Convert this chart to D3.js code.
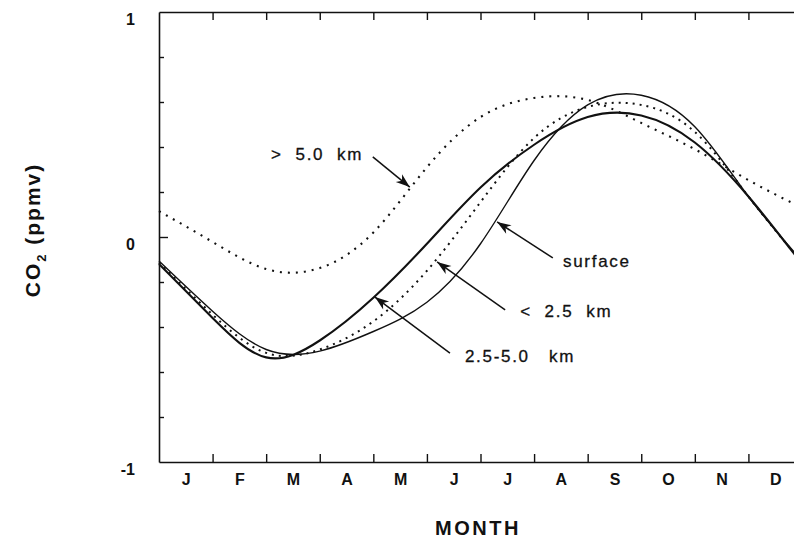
<!DOCTYPE html>
<html>
<head>
<meta charset="utf-8">
<script src="https://cdn.jsdelivr.net/npm/d3@7"></script>
<style>
  body { margin: 0; background: #fff; }
  svg { display: block; font-family: "Liberation Sans", Arial, Helvetica, sans-serif; }
</style>
</head>
<body>
<div id="app"></div>
<script>
// month letters, values at month boundaries (Jan 1 ... next Jan 1)
const months = ['J', 'F', 'M', 'A', 'M', 'J', 'J', 'A', 'S', 'O', 'N', 'D'];
const monthEdges = [0, 1, 2, 3, 4, 5, 6, 7, 8, 9, 10, 11, 12];

const surface  = [-0.107, -0.33, -0.50, -0.507, -0.42, -0.29, -0.03, 0.34, 0.587, 0.63, 0.49, 0.18, -0.107];
const km25     = [-0.113, -0.345, -0.515, -0.50, -0.375, -0.15, 0.155, 0.44, 0.578, 0.587, 0.467, 0.18, -0.113];
const km25to50 = [-0.12, -0.36, -0.535, -0.46, -0.27, -0.03, 0.22, 0.41, 0.533, 0.54, 0.42, 0.18, -0.12];
const km50     = [0.115, -0.022, -0.142, -0.138, 0.02, 0.31, 0.533, 0.618, 0.609, 0.507, 0.39, 0.253, 0.13];

const yTickLabels = [-1, 0, 1];

// labels with arrows: tip / tail / text position in data units
const notes = [
  { text: '>  5.0  km', tip: [4.68, 0.222], tail: [3.99, 0.356], at: [3.81, 0.342], anchor: 'end' },
  { text: 'surface', tip: [6.31, 0.067], tail: [7.35, -0.093], at: [7.54, -0.133], anchor: 'start' },
  { text: '<  2.5  km', tip: [5.19, -0.111], tail: [6.46, -0.324], at: [6.74, -0.356], anchor: 'start' },
  { text: '2.5-5.0   km', tip: [4.03, -0.267], tail: [5.43, -0.516], at: [5.71, -0.556], anchor: 'start' }
];

const W = 794, H = 540;
const margin = { top: 12, left: 159, bottom: 78 };
const plotW = 643; // runs past the right edge of the window, as in the original
const h = H - margin.top - margin.bottom;

const svg = d3.select('#app').append('svg')
  .attr('width', W)
  .attr('height', H);

svg.append('rect').attr('width', W).attr('height', H).attr('fill', '#fff');

const defs = svg.append('defs');
defs.append('marker')
  .attr('id', 'arrow')
  .attr('markerUnits', 'userSpaceOnUse')
  .attr('markerWidth', 16).attr('markerHeight', 12)
  .attr('viewBox', '-15 -6 16 12')
  .attr('refX', 0).attr('refY', 0)
  .attr('orient', 'auto')
  .append('path')
  .attr('d', 'M0,0 L-14,-5 L-10,0 L-14,5 Z')
  .attr('fill', '#111');

const g = svg.append('g')
  .attr('transform', 'translate(' + margin.left + ',' + margin.top + ')');

const x = d3.scaleLinear().domain([0, 12]).range([0, plotW]);
const y = d3.scaleLinear().domain([-1, 1]).range([h, 0]);

// frame + ticks
const axisStyle = sel => {
  sel.selectAll('path.domain').attr('stroke', '#111').attr('stroke-width', 1.6);
  sel.selectAll('line').attr('stroke', '#111').attr('stroke-width', 1.4);
};

g.append('g')
  .call(d3.axisTop(x).tickValues(d3.range(1, 12)).tickSize(-8).tickSizeOuter(0).tickFormat(''))
  .call(axisStyle);

g.append('g')
  .attr('transform', 'translate(0,' + h + ')')
  .call(d3.axisBottom(x).tickValues(d3.range(1, 12)).tickSize(-8).tickSizeOuter(0).tickFormat(''))
  .call(axisStyle);

g.append('g')
  .call(d3.axisLeft(y).tickValues(d3.range(-0.8, 0.9, 0.2).filter(v => Math.abs(v) > 0.01))
    .tickSize(-5).tickSizeOuter(0).tickFormat(''))
  .call(axisStyle);

g.append('g')
  .call(d3.axisLeft(y).tickValues([0]).tickSize(-9).tickSizeOuter(0).tickFormat(''))
  .call(axisStyle)
  .select('path.domain').remove();

// y tick labels
const yl = g.append('g')
  .call(d3.axisLeft(y).tickValues(yTickLabels).tickSize(0).tickPadding(24).tickFormat(d => String(d)));
yl.select('path.domain').remove();
yl.selectAll('text')
  .attr('font-family', '"Liberation Sans", Arial, sans-serif')
  .attr('font-size', 16).attr('font-weight', 'bold').attr('fill', '#111')
  .attr('dy', '0.8em');

// month labels centred in each month
const ml = g.append('g')
  .attr('transform', 'translate(0,' + h + ')')
  .call(d3.axisBottom(x).tickValues(d3.range(0.5, 12, 1)).tickSize(0).tickPadding(12)
    .tickFormat((d, i) => months[i]));
ml.select('path.domain').remove();
ml.selectAll('text')
  .attr('font-family', '"Liberation Sans", Arial, sans-serif')
  .attr('font-size', 16).attr('font-weight', 'bold').attr('fill', '#111');

// curves
const ln = d3.line()
  .curve(d3.curveNatural)
  .x((d, i) => x(monthEdges[i]))
  .y(d => y(d));

const series = [
  { data: km50, width: 2.1, dash: '2,6' },
  { data: km25, width: 2.0, dash: '2,5' },
  { data: surface, width: 1.4, dash: null },
  { data: km25to50, width: 2.1, dash: null }
];

g.selectAll('path.series')
  .data(series)
  .enter().append('path')
  .attr('class', 'series')
  .attr('fill', 'none')
  .attr('stroke', '#111')
  .attr('stroke-width', d => d.width)
  .attr('stroke-dasharray', d => d.dash)
  .attr('d', d => ln(d.data));

// annotations
const ann = g.selectAll('g.note').data(notes).enter().append('g').attr('class', 'note');
ann.append('line')
  .attr('x1', d => x(d.tail[0])).attr('y1', d => y(d.tail[1]))
  .attr('x2', d => x(d.tip[0])).attr('y2', d => y(d.tip[1]))
  .attr('stroke', '#111').attr('stroke-width', 1.5)
  .attr('marker-end', 'url(#arrow)');
ann.append('text')
  .attr('x', d => x(d.at[0])).attr('y', d => y(d.at[1]))
  .attr('text-anchor', d => d.anchor)
  .attr('font-size', 17).attr('letter-spacing', 1.7)
  .attr('fill', '#111').attr('stroke', '#111').attr('stroke-width', 0.3)
  .style('white-space', 'pre')
  .text(d => d.text);

// axis titles
const yt = svg.append('text')
  .attr('transform', 'translate(40,230) rotate(-90)')
  .attr('text-anchor', 'middle')
  .attr('font-size', 21).attr('font-weight', 'bold').attr('letter-spacing', 2)
  .attr('fill', '#111');
yt.append('tspan').text('CO');
yt.append('tspan').attr('font-size', 13).attr('dy', 6).text('2');
yt.append('tspan').attr('dy', -6).text(' (ppmv)');

svg.append('text')
  .attr('x', 478).attr('y', 535)
  .attr('text-anchor', 'middle')
  .attr('font-size', 20).attr('font-weight', 'bold').attr('letter-spacing', 2.5)
  .attr('fill', '#111')
  .text('MONTH');
</script>
</body>
</html>
